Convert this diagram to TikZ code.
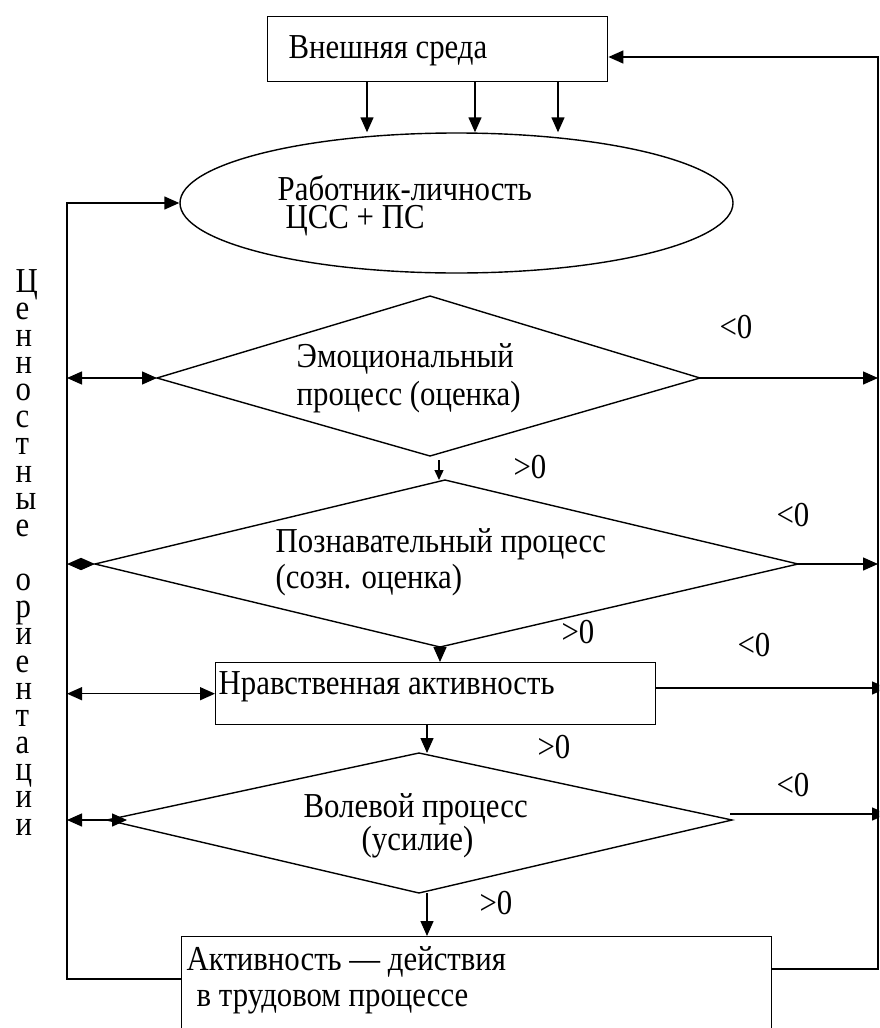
\documentclass[tikz,border=0pt]{standalone}
\usepackage{fontspec}
\setmainfont[FakeStretch=0.88]{Liberation Serif}
\usetikzlibrary{arrows.meta,shapes.geometric}

\tikzset{
  fl/.style={-{Triangle[length=15pt,width=13pt]}},
  flpetit/.style={-{Triangle[length=10pt,width=9pt]}},
  dfl/.style={{Triangle[length=15pt,width=13pt]}-{Triangle[length=15pt,width=13pt]}},
  bloc/.style={draw, rectangle, inner sep=0pt, anchor=north west},
  txt/.style={anchor=base west, inner sep=0pt},
  signe/.style={inner sep=0pt},
}

\begin{document}
\begin{tikzpicture}[x=1pt,y=-1pt,line width=1.4pt,font=\fontsize{35}{30}\selectfont]
  \clip (0,0) rectangle (879,1028);

      % BLOCS
      \node[bloc, minimum width=340pt, minimum height=65pt] (env) at (267,16) {};
      \node[draw, ellipse, inner sep=0pt, minimum width=553pt, minimum height=140pt] (pers) at (456.5,203) {};
      \node[bloc, minimum width=440pt, minimum height=62pt] (moral) at (215,662) {};
      \node[bloc, minimum width=590pt, minimum height=150pt] (act) at (181,936) {};

      % LOSANGES
      \coordinate (d1n) at (430,296);
      \coordinate (d1e) at (700,378);
      \coordinate (d1s) at (430,456);
      \coordinate (d1w) at (157,378);

      \coordinate (d2n) at (445,480);
      \coordinate (d2e) at (798,564);
      \coordinate (d2s) at (440,647);
      \coordinate (d2w) at (95,564);

      \coordinate (d3n) at (419,753);
      \coordinate (d3e) at (732,820);
      \coordinate (d3s) at (419,893);
      \coordinate (d3w) at (107,820);

      \draw (d1n)--(d1e)--(d1s)--(d1w)--cycle;
      \draw (d2n)--(d2e)--(d2s)--(d2w)--cycle;
      \draw (d3n)--(d3e)--(d3s)--(d3w)--cycle;

      % TEXTES
      \node[txt] (envt) at (288,58) {Внешняя среда};
      \node[txt] (pers1) at (277,200) {Работник-личность};
      \node[txt] (pers2) at (285,228) {ЦСС + ПС};
      \node[txt] (emo1) at (296,367) {Эмоциональный};
      \node[txt] (emo2) at (296,405) {процесс (оценка)};
      \node[txt] (cog1) at (275,552) {Познавательный процесс};
      \node[txt] (cog2) at (275,588) {(созн. оценка)};
      \node[txt] (moralt) at (218,694) {Нравственная активность};
      \node[txt] (vol1) at (303,817) {Волевой процесс};
      \node[txt] (vol2) at (361,850) {(усилие)};
      \node[txt] (act1) at (186,970) {Активность — действия};
      \node[txt] (act2) at (196,1006) {в трудовом процессе};

      % COLONNE GAUCHE
      \node[txt] (col) at (15,292) {\vtop{\baselineskip=27.15pt\lineskiplimit=-100pt\relax
        \hbox{Ц}\hbox{е}\hbox{н}\hbox{н}\hbox{о}\hbox{с}\hbox{т}\hbox{н}\hbox{ы}\hbox{е}\hbox{}
        \hbox{о}\hbox{р}\hbox{и}\hbox{е}\hbox{н}\hbox{т}\hbox{а}\hbox{ц}\hbox{и}\hbox{и}}};

      % SIGNES
      \node[signe] (n1) at (736,327) {<0};
      \node[signe] (p1) at (530,467) {>0};
      \node[signe] (n2) at (793,515) {<0};
      \node[signe] (p2) at (578,632) {>0};
      \node[signe] (n3) at (754,645) {<0};
      \node[signe] (p3) at (554,747) {>0};
      \node[signe] (n4) at (793,785) {<0};
      \node[signe] (p4) at (496,903) {>0};

      % FLECHES DU HAUT
      \coordinate (e1) at (367,81);
      \coordinate (e2) at (475,81);
      \coordinate (e3) at (558,81);
      \draw[fl] (e1)--(e1 |- pers.north);
      \draw[fl] (e2)--(e2 |- pers.north);
      \draw[fl] (e3)--(e3 |- pers.north);

      % FLECHES DU MILIEU
      \coordinate (a1) at (439,460);
      \coordinate (a3) at (427,724);
      \coordinate (a4) at (427,893);
      \draw[flpetit] (a1)--(a1 |- d2n);
      \draw[fl] (d2s)--(d2s |- moral.north);
      \draw[fl] (a3)--(a3 |- d3n);
      \draw[fl] (a4)--(a4 |- act.north);

      % RETOUR GAUCHE
      \coordinate (l1) at (181,979);
      \coordinate (l2) at (67,979);
      \coordinate (l3) at (67,203);
      \draw[fl] (l1)--(l2)--(l3)--(pers.west);

      \coordinate (v3) at (127,820);
      \draw[dfl] (d1w -| l2)--(d1w);
      \draw[{Triangle[length=14pt,width=12pt]}-{Triangle[length=14pt,width=12pt]}] (d2w -| l2)--(d2w);
      \draw[dfl] (moral.west -| l2)--(moral.west);
      \draw[dfl] (v3 -| l2)--(v3);

      % RETOUR DROIT
      \coordinate (r1) at (771,969);
      \coordinate (r2) at (878,969);
      \coordinate (r3) at (878,57);
      \coordinate (rr) at (887,0);
      \draw[fl] (r1)--(r2)--(r3)--(env.east |- r3);

      \coordinate (mo) at (655,688);
      \coordinate (vo) at (730,814);
      \draw[fl] (d1e)--(d1e -| r2);
      \draw[fl] (d2e)--(d2e -| r2);
      \draw[fl] (mo)--(mo -| rr);
      \draw[fl] (vo)--(vo -| rr);
  \end{tikzpicture}
\end{document}
